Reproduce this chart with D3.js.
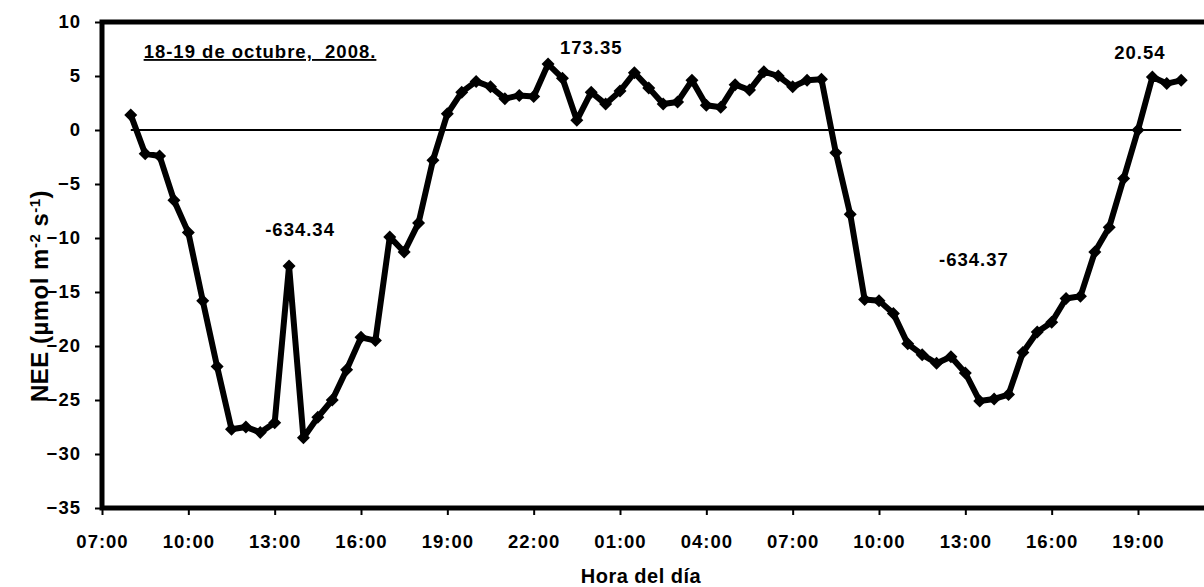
<!DOCTYPE html>
<html>
<head>
<meta charset="utf-8">
<script src="https://cdn.jsdelivr.net/npm/d3@7"></script>
<style>
  body { margin: 0; background: #fff; }
  svg { display: block; }
  text { font-family: "Liberation Sans", Arial, sans-serif; font-weight: bold; fill: #000; }
</style>
</head>
<body>
<svg id="chart" width="1204" height="587"></svg>
<script>
// Half-hourly NEE, 18-19 October 2008 (clock times; the day rolls over after 23:30)
const times = [
  "08:00","08:30","09:00","09:30","10:00","10:30","11:00","11:30","12:00","12:30",
  "13:00","13:30","14:00","14:30","15:00","15:30","16:00","16:30","17:00","17:30",
  "18:00","18:30","19:00","19:30","20:00","20:30","21:00","21:30","22:00","22:30",
  "23:00","23:30",
  "00:00","00:30","01:00","01:30","02:00","02:30","03:00","03:30","04:00","04:30",
  "05:00","05:30","06:00","06:30","07:00","07:30","08:00","08:30","09:00","09:30",
  "10:00","10:30","11:00","11:30","12:00","12:30","13:00","13:30","14:00","14:30",
  "15:00","15:30","16:00","16:30","17:00","17:30","18:00","18:30","19:00","19:30",
  "20:00","20:30"
];
const nee = [
  1.4, -2.2, -2.4, -6.5, -9.5, -15.8, -21.9, -27.7, -27.5, -28.0,
  -27.1, -12.6, -28.5, -26.6, -25.0, -22.2, -19.2, -19.5, -9.9, -11.3,
  -8.6, -2.8, 1.5, 3.5, 4.5, 4.0, 2.9, 3.2, 3.1, 6.1,
  4.8, 0.9,
  3.5, 2.4, 3.6, 5.3, 3.9, 2.4, 2.6, 4.6, 2.3, 2.1,
  4.2, 3.7, 5.4, 5.0, 4.0, 4.6, 4.7, -2.1, -7.8, -15.7,
  -15.8, -17.0, -19.8, -20.8, -21.6, -21.0, -22.5, -25.1, -24.9, -24.5,
  -20.6, -18.7, -17.8, -15.6, -15.4, -11.3, -9.0, -4.5, 0.0, 4.9,
  4.3, 4.6
];

const xTickLabels = ["07:00","10:00","13:00","16:00","19:00","22:00","01:00",
                     "04:00","07:00","10:00","13:00","16:00","19:00"];
const yTickValues = [10, 5, 0, -5, -10, -15, -20, -25, -30, -35];

// Integrated totals written over each period
const totalLabels = ["-634.34", "173.35", "-634.37", "20.54"];
const totalHours  = [13.88, 24.0, 37.3, 43.07];   // hours from 18 Oct 00:00
const totalValues = [-9.2, 7.6, -12.0, 7.2];

const titleText = "18-19 de octubre,  2008.";
const xTitle = "Hora del día";

// ---- helpers ----
const day0 = new Date(2008, 9, 18);
function parseSequence(list) {
  let day = 0, prev = -1;
  return list.map(s => {
    const [h, m] = s.split(":").map(Number);
    const mins = h * 60 + m;
    if (mins < prev) day += 1;
    prev = mins;
    return new Date(2008, 9, 18 + day, h, m);
  });
}
const dates = parseSequence(times);
const tickDates = parseSequence(xTickLabels);
const data = dates.map((d, i) => ({ t: d, v: nee[i] }));

// ---- layout ----
const svg = d3.select("#chart");
const plotLeft = 102, plotTop = 22, plotBottom = 508;

const x = d3.scaleTime()
  .domain([new Date(2008, 9, 18, 7, 0), new Date(2008, 9, 19, 22, 0)])
  .range([plotLeft, plotLeft + 39 * (1036 / 36)]);
const y = d3.scaleLinear().domain([-35, 10]).range([plotBottom, plotTop]);

// ticks
const xAxis = svg.append("g")
  .attr("transform", `translate(0,${plotBottom})`)
  .call(d3.axisBottom(x).tickValues(tickDates).tickFormat(d3.timeFormat("%H:%M"))
        .tickSize(7).tickPadding(20));
xAxis.select(".domain").remove();
xAxis.selectAll("line").attr("stroke", "#000").attr("stroke-width", 2);
xAxis.selectAll("text").attr("font-size", "18.5px").attr("letter-spacing", "1px")
  .attr("fill", "#000");

const yAxis = svg.append("g")
  .attr("transform", `translate(${plotLeft},0)`)
  .call(d3.axisLeft(y).tickValues(yTickValues).tickFormat(d3.format("d"))
        .tickSize(7).tickPadding(14));
yAxis.select(".domain").remove();
yAxis.selectAll("line").attr("stroke", "#000").attr("stroke-width", 2);
yAxis.selectAll("text").attr("font-size", "18.5px").attr("letter-spacing", "1px")
  .attr("fill", "#000");

// plot frame
svg.append("rect")
  .attr("x", plotLeft).attr("y", plotTop)
  .attr("width", 1250 - plotLeft).attr("height", plotBottom - plotTop)
  .attr("fill", "none").attr("stroke", "#000").attr("stroke-width", 5);

// zero reference
svg.append("line")
  .attr("x1", x(dates[0])).attr("x2", x(dates[dates.length - 1]))
  .attr("y1", y(0)).attr("y2", y(0))
  .attr("stroke", "#000").attr("stroke-width", 2);

// NEE series
svg.append("path")
  .datum(data)
  .attr("fill", "none").attr("stroke", "#000")
  .attr("stroke-width", 6).attr("stroke-linejoin", "round")
  .attr("d", d3.line().x(d => x(d.t)).y(d => y(d.v)));

const diamond = "M0,-6.5L6.5,0L0,6.5L-6.5,0Z";
svg.append("g").selectAll("path")
  .data(data).join("path")
  .attr("d", diamond)
  .attr("transform", d => `translate(${x(d.t)},${y(d.v)})`)
  .attr("fill", "#000");

// period totals
svg.append("g").selectAll("text")
  .data(totalLabels).join("text")
  .attr("x", (d, i) => x(d3.timeMinute.offset(day0, Math.round(totalHours[i] * 60))))
  .attr("y", (d, i) => y(totalValues[i]))
  .attr("dy", "0.35em")
  .attr("text-anchor", "middle")
  .attr("font-size", "18.5px").attr("letter-spacing", "1px")
  .text(d => d);

// title
svg.append("text")
  .attr("x", 260).attr("y", 58)
  .attr("text-anchor", "middle")
  .attr("font-size", "18.5px").attr("letter-spacing", "1px")
  .attr("text-decoration", "underline")
  .style("white-space", "pre")
  .text(titleText);

// axis titles
svg.append("text")
  .attr("x", 641).attr("y", 583)
  .attr("text-anchor", "middle")
  .attr("font-size", "20px").attr("letter-spacing", "0.5px")
  .text(xTitle);

const yt = svg.append("text")
  .attr("transform", "translate(48,296) rotate(-90)")
  .attr("text-anchor", "middle")
  .attr("font-size", "24px").attr("letter-spacing", "0.5px");
yt.append("tspan").text("NEE (µmol m");
yt.append("tspan").attr("dy", "-8").attr("font-size", "15px").text("-2");
yt.append("tspan").attr("dy", "8").text(" s");
yt.append("tspan").attr("dy", "-8").attr("font-size", "15px").text("-1");
yt.append("tspan").attr("dy", "8").text(")");
</script>
</body>
</html>
